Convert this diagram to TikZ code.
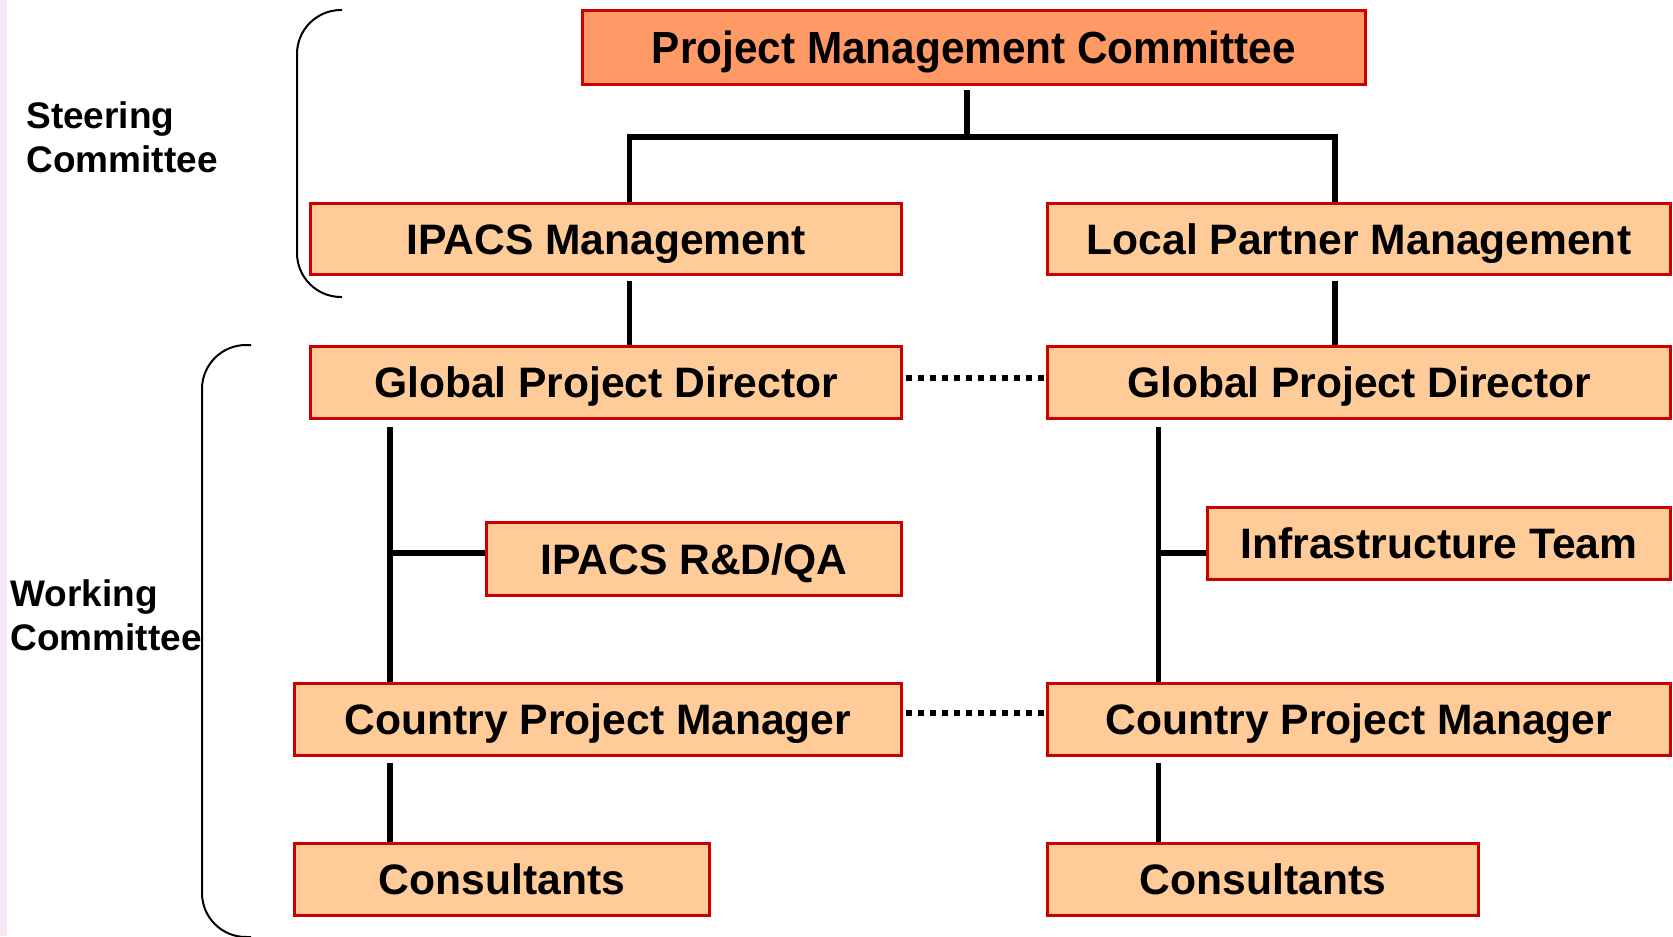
\documentclass[tikz,border=0pt]{standalone}
\usepackage{fontspec}
\usepackage{graphicx}
\setmainfont{Liberation Sans}
\usetikzlibrary{calc}
\definecolor{boxfill}{HTML}{FFCC99}
\definecolor{topfill}{HTML}{FF9966}
\definecolor{boxline}{HTML}{CC0000}
\definecolor{stripcol}{HTML}{F7E7F7}
\begin{document}
\begin{tikzpicture}[x=0.5pt,y=-0.5pt,
  orgbox/.style={draw=boxline, line width=1.5pt, fill=boxfill, rectangle, inner sep=0pt,
    font=\fontsize{21.3}{25}\selectfont\bfseries, text height=15.25pt, text depth=0pt},
  link/.style={line width=2.75pt, draw=black},
  dotlink/.style={line width=3pt, draw=black, dash pattern=on 3pt off 3pt,
    shorten <=1.5pt, shorten >=1pt},
  bracket/.style={line width=1pt, draw=black, rounded corners=22pt},
  sidelabel/.style={font=\fontsize{18.5}{22}\selectfont\bfseries, align=left, inner sep=0pt}]
\useasboundingbox (0,0) rectangle (1673,936);
\fill[stripcol] (0,0) rectangle (7,936);

% brackets
\draw[bracket] (342,10) -- (297,10) -- (297,297) -- (342,297);
\draw[bracket] (251,345) -- (202,345) -- (202,937) -- (251,937);

% side labels
\node[sidelabel, anchor=west] (steer) at (26,137) {Steering\\Committee};
\node[sidelabel, anchor=west] (work) at (10,615) {Working\\Committee};

% boxes
\node[orgbox, fill=topfill, minimum width=391.5pt, minimum height=37pt,
  font=\fontsize{22.5}{26}\selectfont\bfseries, text height=16.1pt] (pmc) at (974,47.5)
  {\scalebox{0.94}[1]{Project Management Committee}};
\node[orgbox, minimum width=295.5pt, minimum height=35.5pt] (ipm) at (606,239) {IPACS Management};
\node[orgbox, minimum width=311.5pt, minimum height=35.5pt] (lpm) at (1359,239) {Local Partner Management};
\node[orgbox, minimum width=295.5pt, minimum height=36pt] (gpd1) at (606,382.5) {Global Project Director};
\node[orgbox, minimum width=311.5pt, minimum height=36pt] (gpd2) at (1359,382.5) {Global Project Director};
\node[orgbox, minimum width=207.5pt, minimum height=36.5pt] (rdqa) at (694,559) {IPACS R\&D/QA};
\node[orgbox, minimum width=231.5pt, minimum height=36pt] (infra) at (1439,543.5) {Infrastructure Team};
\node[orgbox, minimum width=303.5pt, minimum height=36pt] (cpm1) at (598,719.5) {Country Project Manager};
\node[orgbox, minimum width=311.5pt, minimum height=36pt] (cpm2) at (1359,719.5) {Country Project Manager};
\node[orgbox, minimum width=207.5pt, minimum height=36pt] (con1) at (502,879.5) {Consultants};
\node[orgbox, minimum width=215.5pt, minimum height=36pt] (con2) at (1263,879.5) {Consultants};

% connectors
\coordinate (j0) at (967,137);
\coordinate (jl) at (629.5,137);
\coordinate (jr) at (1335,137);
\draw[link, shorten <=2pt] (pmc.south -| j0) -- (j0);
\draw[link] (jl |- ipm.north) -- (jl) -- (jr) -- (jr |- lpm.north);
\draw[link, shorten <=2.5pt] (jl |- ipm.south) -- (jl |- gpd1.north);
\draw[link, shorten <=2.5pt] (jr |- lpm.south) -- (jr |- gpd2.north);

\coordinate (vl) at (390,553);
\coordinate (vr) at (1158.5,553);
\draw[link, shorten <=3.5pt] (vl |- gpd1.south) -- (vl |- cpm1.north);
\draw[link] (vl) -- (vl -| rdqa.west);
\draw[link, shorten <=3.5pt] (vr |- gpd2.south) -- (vr |- cpm2.north);
\draw[link] (vr) -- (vr -| infra.west);
\draw[link, shorten <=3pt] (vl |- cpm1.south) -- (vl |- con1.north);
\draw[link, shorten <=3pt] (vr |- cpm2.south) -- (vr |- con2.north);

\draw[dotlink] ($(gpd1.east)+(0,-5)$) -- ($(gpd2.west)+(0,-5)$);
\draw[dotlink] ($(cpm1.east)+(0,-7)$) -- ($(cpm2.west)+(0,-7)$);
\end{tikzpicture}
\end{document}
